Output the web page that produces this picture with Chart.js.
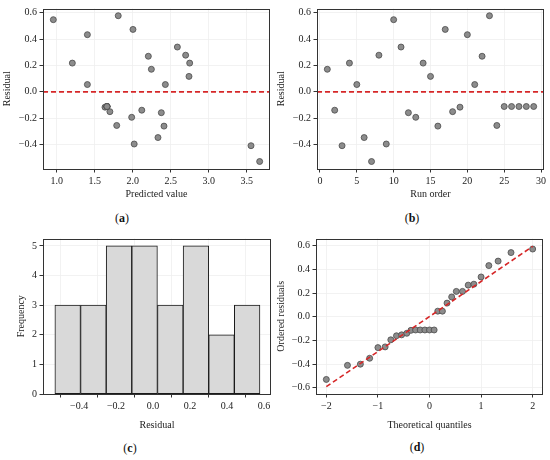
<!DOCTYPE html>
<html>
<head>
    <title>Residual diagnostics</title>
    <meta charset="utf-8">
    <script src="https://cdn.jsdelivr.net/npm/chart.js@4"></script>
    <style>
        body {
            margin: 0;
            width: 550px;
            height: 460px;
            background: #fff;
            position: relative;
            overflow: hidden;
            font-family: 'Liberation Serif', 'Times New Roman', serif;
        }
        canvas {
            position: absolute;
        }
        .cap {
            position: absolute;
            font-size: 12px;
            color: #111;
            transform: translate(-50%, -50%);
            white-space: nowrap;
        }
    </style>
</head>
<body>
    <canvas id="panelA" width="275" height="205" style="left:0;top:0"></canvas>
    <canvas id="panelB" width="275" height="205" style="left:275px;top:0"></canvas>
    <canvas id="panelC" width="275" height="205" style="left:0;top:230px"></canvas>
    <canvas id="panelD" width="275" height="205" style="left:275px;top:230px"></canvas>
    <div class="cap" style="left:122px;top:218px">(<b>a</b>)</div>
    <div class="cap" style="left:412px;top:218px">(<b>b</b>)</div>
    <div class="cap" style="left:130px;top:448px">(<b>c</b>)</div>
    <div class="cap" style="left:417px;top:447px">(<b>d</b>)</div>
    <script>
        // values, one entry per run
        var runOrder = [1, 2, 3, 4, 5, 6, 7, 8, 9, 10, 11, 12, 13, 14, 15, 16, 17, 18, 19, 20,
            21, 22, 23, 24, 25, 26, 27, 28, 29];
        var predicted = [2.246, 2.12, 3.557, 1.206, 1.404, 2.333, 3.671, 2.697, 2.02, 0.956,
            2.588, 2.377, 1.987, 2.75, 2.741, 2.412, 2.004, 1.70, 1.636, 1.404,
            2.43, 2.206, 1.81, 1.79, 1.662, 1.662, 1.662, 1.662, 1.662];
        var residuals = [0.171, -0.140, -0.410, 0.218, 0.055, -0.348, -0.530, 0.278, -0.397, 0.548,
            0.340, -0.159, -0.194, 0.218, 0.117, -0.261, 0.474, -0.151, -0.117, 0.434,
            0.055, 0.270, 0.578, -0.256, -0.112, -0.112, -0.112, -0.112, -0.112];

        // histogram of residuals
        var histEdges = [-0.531, -0.392, -0.253, -0.115, 0.024, 0.163, 0.301, 0.440, 0.578];
        var histCounts = [3, 3, 5, 5, 3, 5, 2, 3];

        // normal Q-Q plot
        var qqTheoretical = [-2.0, -1.59, -1.34, -1.16, -1.0, -0.86, -0.75, -0.64, -0.54, -0.44,
            -0.36, -0.27, -0.18, -0.09, 0.0, 0.09, 0.16, 0.25, 0.34, 0.43,
            0.52, 0.64, 0.75, 0.86, 1.0, 1.15, 1.33, 1.58, 2.0];
        var qqOrdered = [-0.529, -0.41, -0.40, -0.35, -0.26, -0.254, -0.194, -0.16, -0.152, -0.139,
            -0.114, -0.111, -0.111, -0.111, -0.111, -0.111, 0.048, 0.048, 0.116, 0.168,
            0.215, 0.215, 0.268, 0.276, 0.337, 0.433, 0.471, 0.543, 0.573];
        var qqLineX = [-2, 2];
        var qqLineY = [-0.59, 0.595];

        Chart.defaults.font.family = "'Liberation Serif', 'Times New Roman', serif";
        Chart.defaults.font.size = 10;
        Chart.defaults.color = '#222';
        Chart.defaults.animation = false;

        var RED = '#d62728';

        function fmt(digits) {
            return function (v) {
                if (Math.abs(v) < 1e-9) v = 0;
                return v.toFixed(digits).replace('-', '\u2212');
            };
        }

        // box around the plot area
        var framePlugin = {
            id: 'frame',
            afterDraw: function (chart) {
                var a = chart.chartArea, c = chart.ctx;
                c.save();
                c.strokeStyle = '#333';
                c.lineWidth = 1;
                c.strokeRect(Math.round(a.left) + 0.5, Math.round(a.top) + 0.5,
                    Math.round(a.right - a.left) - 1, Math.round(a.bottom - a.top) - 1);
                c.restore();
            }
        };

        // red dashed line at residual = 0
        var zeroLinePlugin = {
            id: 'zeroLine',
            beforeDatasetsDraw: function (chart) {
                var a = chart.chartArea, c = chart.ctx;
                var y = chart.scales.y.getPixelForValue(0);
                c.save();
                c.strokeStyle = RED;
                c.lineWidth = 1.8;
                c.setLineDash([5, 3]);
                c.beginPath();
                c.moveTo(a.left, y);
                c.lineTo(a.right, y);
                c.stroke();
                c.restore();
            }
        };

        function axis(opts) {
            return {
                type: 'linear',
                min: opts.min,
                max: opts.max,
                offset: false,
                border: { display: false },
                grid: { color: '#efefef', lineWidth: 0.8, tickLength: 3.5, tickColor: '#333', tickWidth: 1 },
                ticks: {
                    stepSize: opts.step,
                    includeBounds: false,
                    padding: opts.tickPad,
                    color: '#222',
                    font: { size: 10 },
                    maxRotation: 0,
                    autoSkip: false,
                    callback: fmt(opts.digits)
                },
                title: {
                    display: true,
                    text: opts.title,
                    color: '#222',
                    font: { size: 10 },
                    padding: opts.titlePad
                },
                afterFit: function (scale) {
                    if (scale.isHorizontal()) scale.height = opts.size;
                    else scale.width = opts.size;
                }
            };
        }

        var pointStyle = {
            pointRadius: 3,
            pointHoverRadius: 3,
            pointBackgroundColor: '#8c8c8c',
            pointBorderColor: '#4a4a4a',
            pointBorderWidth: 0.8
        };

        function scatterSet(xs, ys) {
            return Object.assign({
                type: 'scatter',
                data: xs.map(function (x, i) { return { x: x, y: ys[i] }; }),
                showLine: false
            }, pointStyle);
        }

        var baseOptions = function (pad, scales) {
            return {
                responsive: false,
                devicePixelRatio: 1,
                layout: { padding: pad },
                plugins: { legend: { display: false }, tooltip: { enabled: false } },
                scales: scales
            };
        };

        // (a) residuals vs predicted value
        new Chart(document.getElementById('panelA'), {
            type: 'scatter',
            data: { datasets: [scatterSet(predicted, residuals)] },
            options: baseOptions({ top: 5, right: 5, left: 0, bottom: 0 }, {
                x: axis({ min: 0.82, max: 3.807, step: 0.5, digits: 1, title: 'Predicted value',
                    size: 36, tickPad: 2.5, titlePad: { top: 0, bottom: 5 } }),
                y: axis({ min: -0.587, max: 0.633, step: 0.2, digits: 1, title: 'Residual',
                    size: 43, tickPad: 2.5, titlePad: { top: 1, bottom: 0 } })
            }),
            plugins: [zeroLinePlugin, framePlugin]
        });

        // (b) residuals vs run order
        new Chart(document.getElementById('panelB'), {
            type: 'scatter',
            data: { datasets: [scatterSet(runOrder, residuals)] },
            options: baseOptions({ top: 5, right: 6, left: 0, bottom: 0 }, {
                x: axis({ min: -0.4, max: 30.4, step: 5, digits: 0, title: 'Run order',
                    size: 36, tickPad: 2.5, titlePad: { top: 0, bottom: 5 } }),
                y: axis({ min: -0.587, max: 0.633, step: 0.2, digits: 1, title: 'Residual',
                    size: 42, tickPad: 2.5, titlePad: { top: 0, bottom: 0 } })
            }),
            plugins: [zeroLinePlugin, framePlugin]
        });

        // (c) histogram of residuals
        var histData = histCounts.map(function (c, i) {
            return { x: (histEdges[i] + histEdges[i + 1]) / 2, y: c };
        });
        new Chart(document.getElementById('panelC'), {
            type: 'bar',
            data: {
                datasets: [{
                    data: histData,
                    backgroundColor: '#d9d9d9',
                    borderColor: '#1a1a1a',
                    borderWidth: 1,
                    borderSkipped: false,
                    barPercentage: 1,
                    categoryPercentage: 1
                }]
            },
            options: baseOptions({ top: 3, right: 4, left: 0, bottom: 0 }, {
                x: axis({ min: -0.595, max: 0.638, step: 0.2, digits: 1, title: 'Residual',
                    size: 41, tickPad: 2.5, titlePad: { top: 0, bottom: 4 } }),
                y: axis({ min: 0, max: 5.25, step: 1, digits: 0, title: 'Frequency',
                    size: 43, tickPad: 2.5, titlePad: { top: 15.5, bottom: 0 } })
            }),
            plugins: [framePlugin]
        });

        // (d) normal Q-Q plot
        new Chart(document.getElementById('panelD'), {
            type: 'scatter',
            data: {
                datasets: [{
                    type: 'line',
                    data: qqLineX.map(function (x, i) { return { x: x, y: qqLineY[i] }; }),
                    borderColor: RED,
                    borderWidth: 1.6,
                    borderDash: [5, 3],
                    pointRadius: 0,
                    fill: false
                }, scatterSet(qqTheoretical, qqOrdered)]
            },
            options: baseOptions({ top: 4, right: 7, left: 0, bottom: 0 }, {
                x: axis({ min: -2.2, max: 2.2, step: 1, digits: 0, title: 'Theoretical quantiles',
                    size: 41, tickPad: 2.5, titlePad: { top: 0, bottom: 4 } }),
                y: axis({ min: -0.652, max: 0.662, step: 0.2, digits: 1, title: 'Ordered residuals',
                    size: 41, tickPad: 2.5, titlePad: { top: 0, bottom: 0 } })
            }),
            plugins: [framePlugin]
        });
    </script>
</body>
</html>
